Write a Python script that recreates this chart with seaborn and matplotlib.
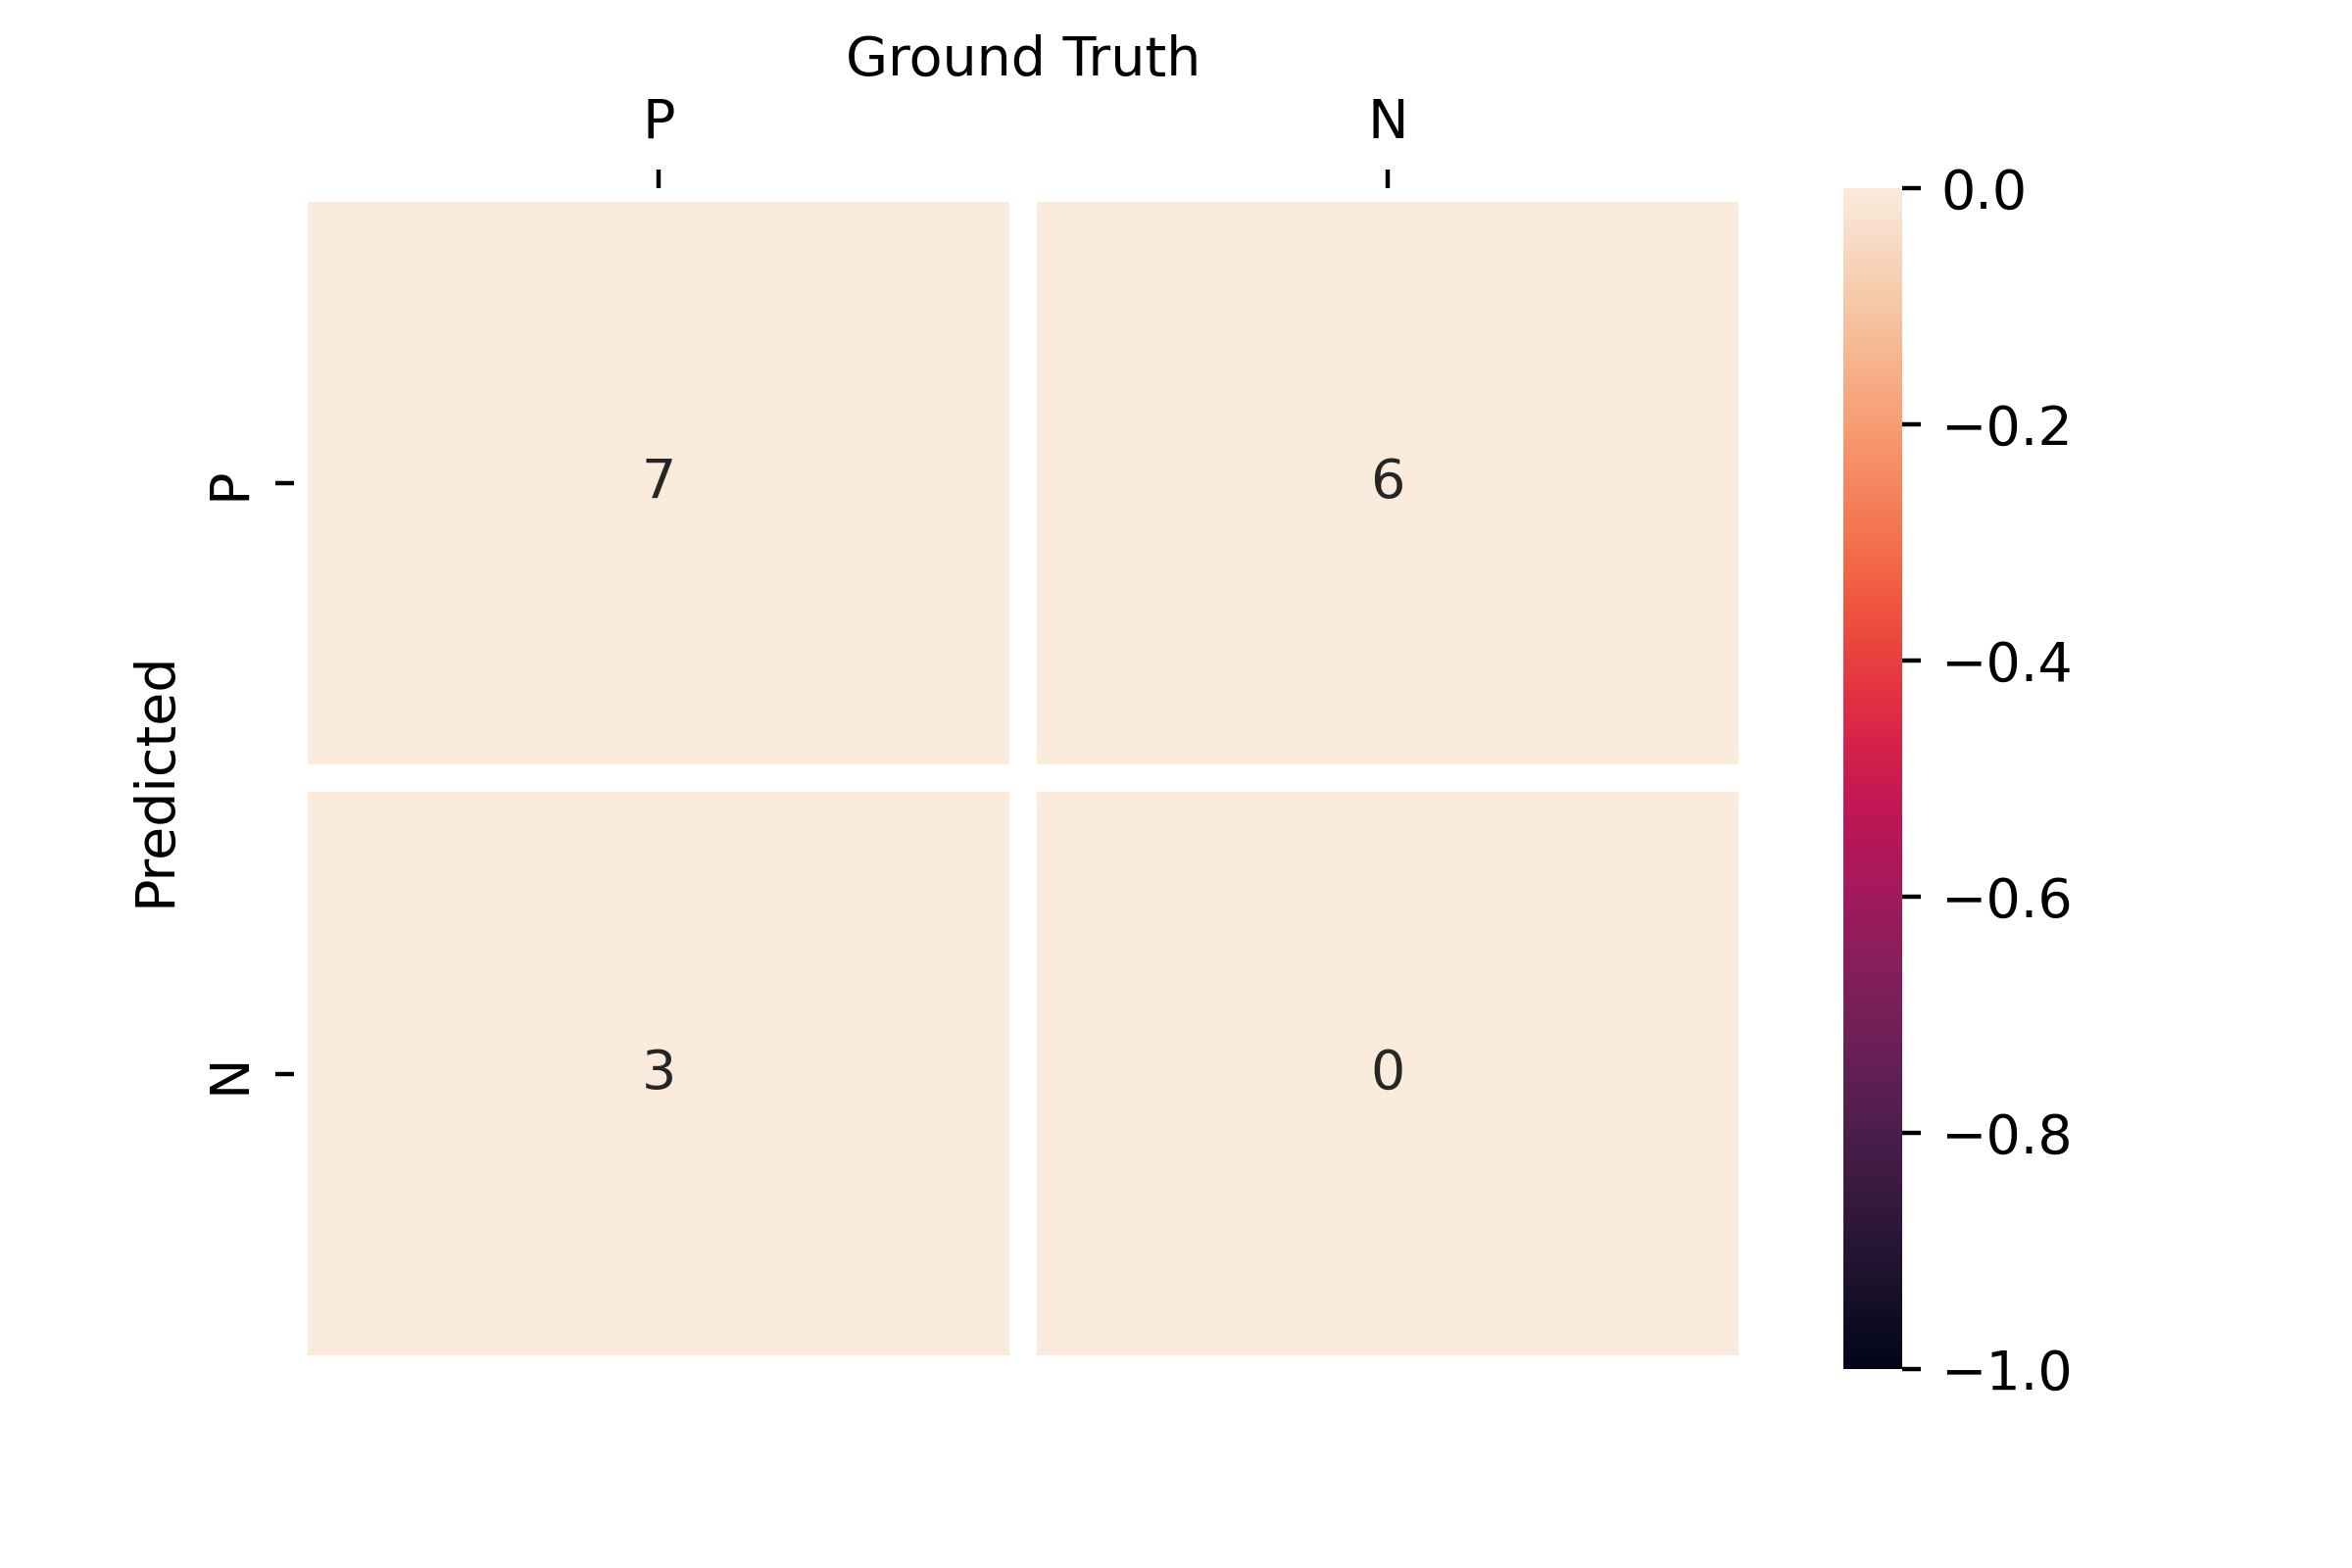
"""Confusion matrix heatmap (predicted vs ground truth)."""

import matplotlib

matplotlib.use("Agg")  # headless
import matplotlib.pyplot as plt
import numpy as np
import seaborn as sns

LABELS = ["P", "N"]
COUNTS = np.array([[7, 6],
                   [3, 0]])

plt.rcParams["font.family"] = ["DejaVu Sans"]

fig, ax = plt.subplots(figsize=(6, 4), dpi=400)
fig.subplots_adjust(bottom=0.127, top=0.88)
sns.heatmap(COUNTS, annot=True, fmt="d", vmin=-1, vmax=0, linewidths=5,
            xticklabels=LABELS, yticklabels=LABELS, ax=ax)
ax.xaxis.tick_top()
ax.xaxis.set_label_position("top")
ax.set_xlabel("Ground Truth")
ax.set_ylabel("Predicted")
plt.setp(ax.get_yticklabels(), rotation=90, va="center")
fig.savefig("out.png", dpi=400)
